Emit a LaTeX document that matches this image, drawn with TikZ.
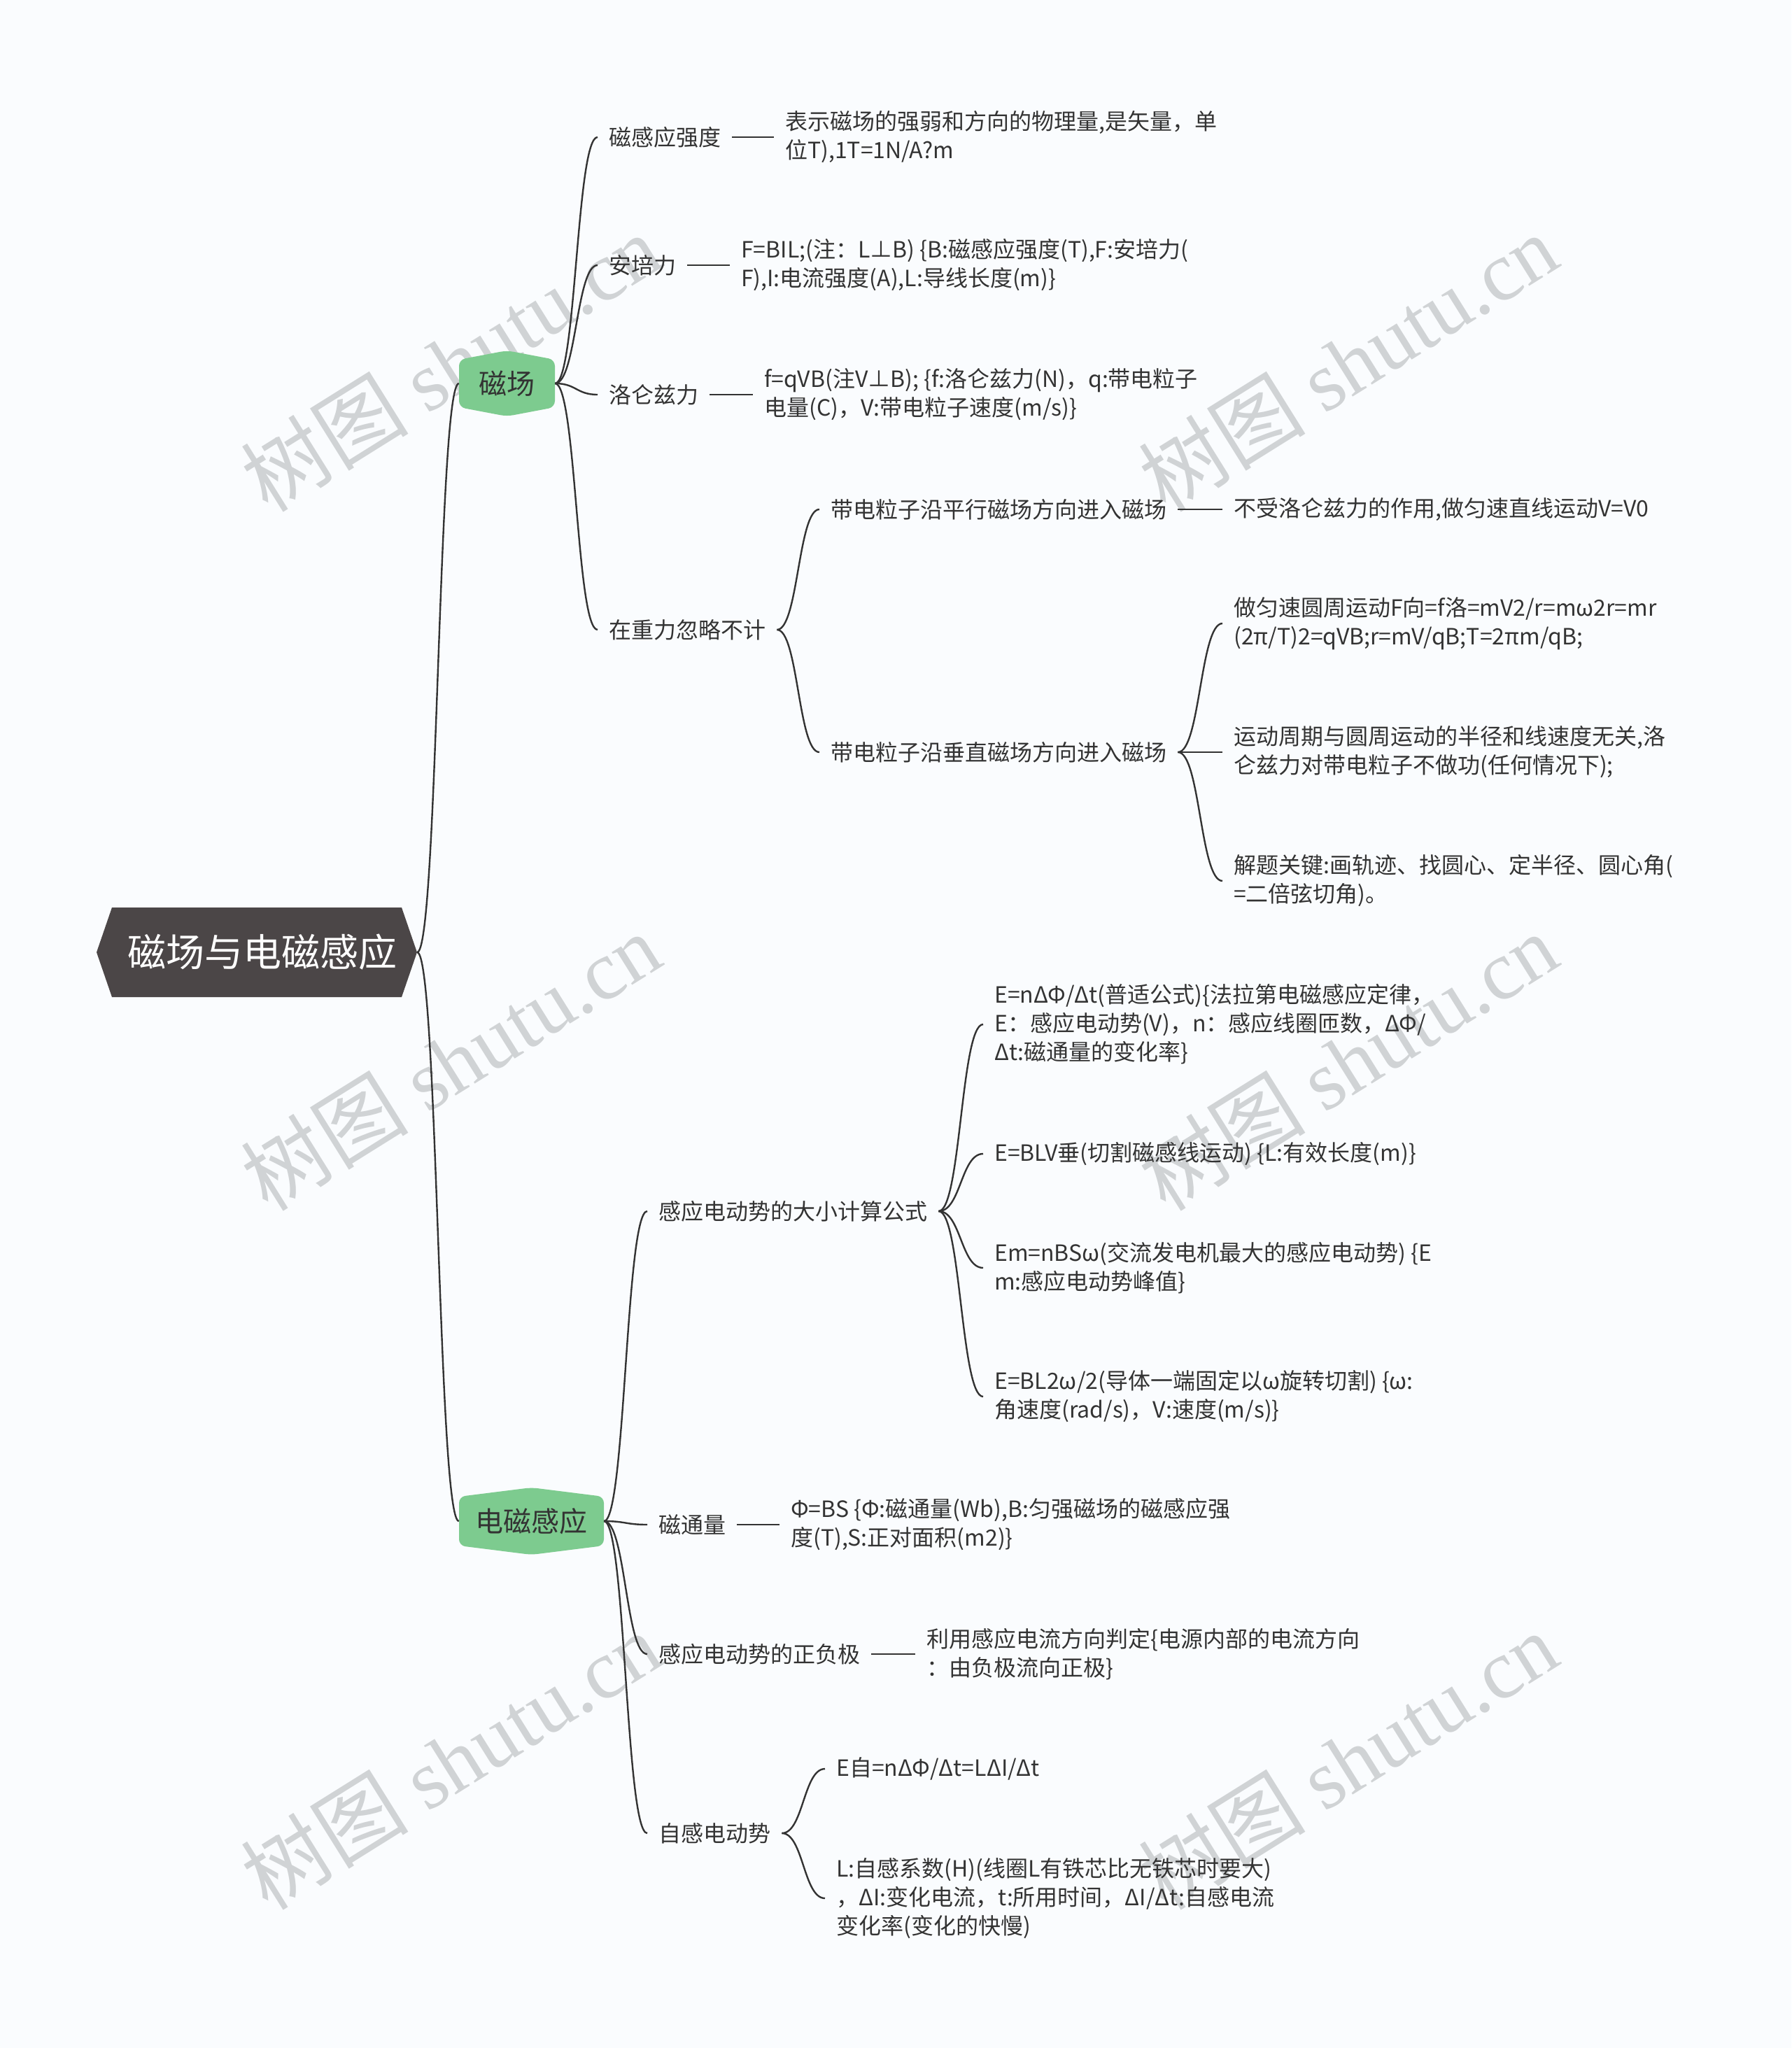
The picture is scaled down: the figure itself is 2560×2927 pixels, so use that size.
\documentclass[tikz,border=0pt]{standalone}
\usepackage{fontspec}
\setmainfont{Noto Sans CJK SC}
\newfontfamily\wmfont{Liberation Serif}
\usetikzlibrary{calc}
\definecolor{bgc}{RGB}{250,252,254}
\definecolor{rootc}{RGB}{75,70,71}
\definecolor{greenc}{RGB}{125,203,143}
\definecolor{txtc}{RGB}{51,51,51}
\definecolor{linec}{RGB}{51,51,51}
\definecolor{wmc}{RGB}{208,211,213}
\tikzset{
  conn/.style={draw=linec, line width=2.4pt,
    to path={let \p1=(\tikztostart), \p2=(\tikztotarget) in
      .. controls ({(\x1+\x2)/2},\y1) and ({(\x1+\x2)/2},\y2) .. (\tikztotarget)}},
  txt/.style={anchor=west, inner xsep=16pt, inner ysep=4pt, align=left,
    text=txtc, font=\fontsize{32}{41}\selectfont},
  greennode/.style={inner sep=0pt, text=txtc, font=\fontsize{40}{48}\selectfont,
    path picture={\fill[greenc, rounded corners=9pt]
      (path picture bounding box.north)
      -- ([yshift=-13pt]path picture bounding box.north east)
      -- ([yshift=13pt]path picture bounding box.south east)
      -- (path picture bounding box.south)
      -- ([yshift=13pt]path picture bounding box.south west)
      -- ([yshift=-13pt]path picture bounding box.north west) -- cycle;}},
  rootnode/.style={inner sep=0pt, text=white, font=\fontsize{55}{60}\selectfont,
    path picture={\fill[rootc]
      (path picture bounding box.west)
      -- ([xshift=22pt]path picture bounding box.north west)
      -- ([xshift=-22pt]path picture bounding box.north east)
      -- (path picture bounding box.east)
      -- ([xshift=-22pt]path picture bounding box.south east)
      -- ([xshift=22pt]path picture bounding box.south west) -- cycle;}},
  wm/.style={text=wmc, font=\fontsize{120}{126}\selectfont, rotate=32, inner sep=0pt}
}
\begin{document}
\begin{tikzpicture}[x=1pt,y=-1pt]
\fill[bgc] (0,0) rectangle (2560,2927);
\path[use as bounding box] (0,0) rectangle (2560,2927);

% watermarks
\node[wm] (w1) at (644,518) {树图 {\wmfont shutu.cn}};
\node[wm] (w2) at (1926,518) {树图 {\wmfont shutu.cn}};
\node[wm] (w3) at (644,1517) {树图 {\wmfont shutu.cn}};
\node[wm] (w4) at (1926,1517) {树图 {\wmfont shutu.cn}};
\node[wm] (w5) at (644,2516) {树图 {\wmfont shutu.cn}};
\node[wm] (w6) at (1926,2516) {树图 {\wmfont shutu.cn}};

% root and first level
\node[rootnode, minimum width=458pt, minimum height=128pt] (root) at (367,1361) {\hspace*{16pt}磁场与电磁感应};
\node[greennode, minimum width=137pt, minimum height=94pt] (cc) at (724.5,548) {磁场};
\node[greennode, minimum width=207pt, minimum height=96pt] (dc) at (759.5,2174) {电磁感应};

% magnetic field branch
\node[txt] (a1) at (854,196) {磁感应强度};
\node[txt] (a1d) at (1106,196) {表示磁场的强弱和方向的物理量,是矢量，单\\位T),1T=1N/A?m};
\node[txt] (a2) at (854,379) {安培力};
\node[txt] (a2d) at (1043,379) {F=BIL;(注：L⊥B) \{B:磁感应强度(T),F:安培力(\\F),I:电流强度(A),L:导线长度(m)\}};
\node[txt] (a3) at (854,564) {洛仑兹力};
\node[txt] (a3d) at (1076,564) {f=qVB(注V⊥B); \{f:洛仑兹力(N)，q:带电粒子\\电量(C)，V:带电粒子速度(m/s)\}};
\node[txt] (a4) at (854,900) {在重力忽略不计};
\node[txt] (a41) at (1171,728) {带电粒子沿平行磁场方向进入磁场};
\node[txt] (a41d) at (1747,728) {不受洛仑兹力的作用,做匀速直线运动V=V0};
\node[txt] (a42) at (1171,1075) {带电粒子沿垂直磁场方向进入磁场};
\node[txt] (a421) at (1747,891) {做匀速圆周运动F向=f洛=mV2/r=mω2r=mr\\(2π/T)2=qVB;r=mV/qB;T=2πm/qB;};
\node[txt] (a422) at (1747,1075) {运动周期与圆周运动的半径和线速度无关,洛\\仑兹力对带电粒子不做功(任何情况下);};
\node[txt] (a423) at (1747,1259) {解题关键:画轨迹、找圆心、定半径、圆心角(\\=二倍弦切角)。};

% induction branch
\node[txt] (b1) at (925,1731) {感应电动势的大小计算公式};
\node[txt] (b11) at (1405,1464) {E=nΔΦ/Δt(普适公式)\{法拉第电磁感应定律，\\E：感应电动势(V)，n：感应线圈匝数，ΔΦ/\\Δt:磁通量的变化率\}};
\node[txt] (b12) at (1405,1649) {E=BLV垂(切割磁感线运动) \{L:有效长度(m)\}};
\node[txt] (b13) at (1405,1812) {Em=nBSω(交流发电机最大的感应电动势) \{E\\m:感应电动势峰值\}};
\node[txt] (b14) at (1405,1996) {E=BL2ω/2(导体一端固定以ω旋转切割) \{ω:\\角速度(rad/s)，V:速度(m/s)\}};
\node[txt] (b2) at (925,2179) {磁通量};
\node[txt] (b2d) at (1114,2179) {Φ=BS \{Φ:磁通量(Wb),B:匀强磁场的磁感应强\\度(T),S:正对面积(m2)\}};
\node[txt] (b3) at (925,2364) {感应电动势的正负极};
\node[txt] (b3d) at (1308,2364) {利用感应电流方向判定\{电源内部的电流方向\\：由负极流向正极\}};
\node[txt] (b4) at (925,2620) {自感电动势};
\node[txt] (b41) at (1179,2528) {E自=nΔΦ/Δt=LΔI/Δt};
\node[txt] (b42) at (1179,2713) {L:自感系数(H)(线圈L有铁芯比无铁芯时要大)\\，ΔI:变化电流，t:所用时间，ΔI/Δt:自感电流\\变化率(变化的快慢)};

% connectors
\draw[conn] (root.east) to (cc.west);
\draw[conn] (root.east) to (dc.west);
\draw[conn] (cc.east) to (a1.west);
\draw[conn] (cc.east) to (a2.west);
\draw[conn] (cc.east) to (a3.west);
\draw[conn] (cc.east) to (a4.west);
\draw[conn] (a1.east) to (a1d.west);
\draw[conn] (a2.east) to (a2d.west);
\draw[conn] (a3.east) to (a3d.west);
\draw[conn] (a4.east) to (a41.west);
\draw[conn] (a4.east) to (a42.west);
\draw[conn] (a41.east) to (a41d.west);
\draw[conn] (a42.east) to (a421.west);
\draw[conn] (a42.east) to (a422.west);
\draw[conn] (a42.east) to (a423.west);
\draw[conn] (dc.east) to (b1.west);
\draw[conn] (dc.east) to (b2.west);
\draw[conn] (dc.east) to (b3.west);
\draw[conn] (dc.east) to (b4.west);
\draw[conn] (b1.east) to (b11.west);
\draw[conn] (b1.east) to (b12.west);
\draw[conn] (b1.east) to (b13.west);
\draw[conn] (b1.east) to (b14.west);
\draw[conn] (b2.east) to (b2d.west);
\draw[conn] (b3.east) to (b3d.west);
\draw[conn] (b4.east) to (b41.west);
\draw[conn] (b4.east) to (b42.west);
\end{tikzpicture}
\end{document}
